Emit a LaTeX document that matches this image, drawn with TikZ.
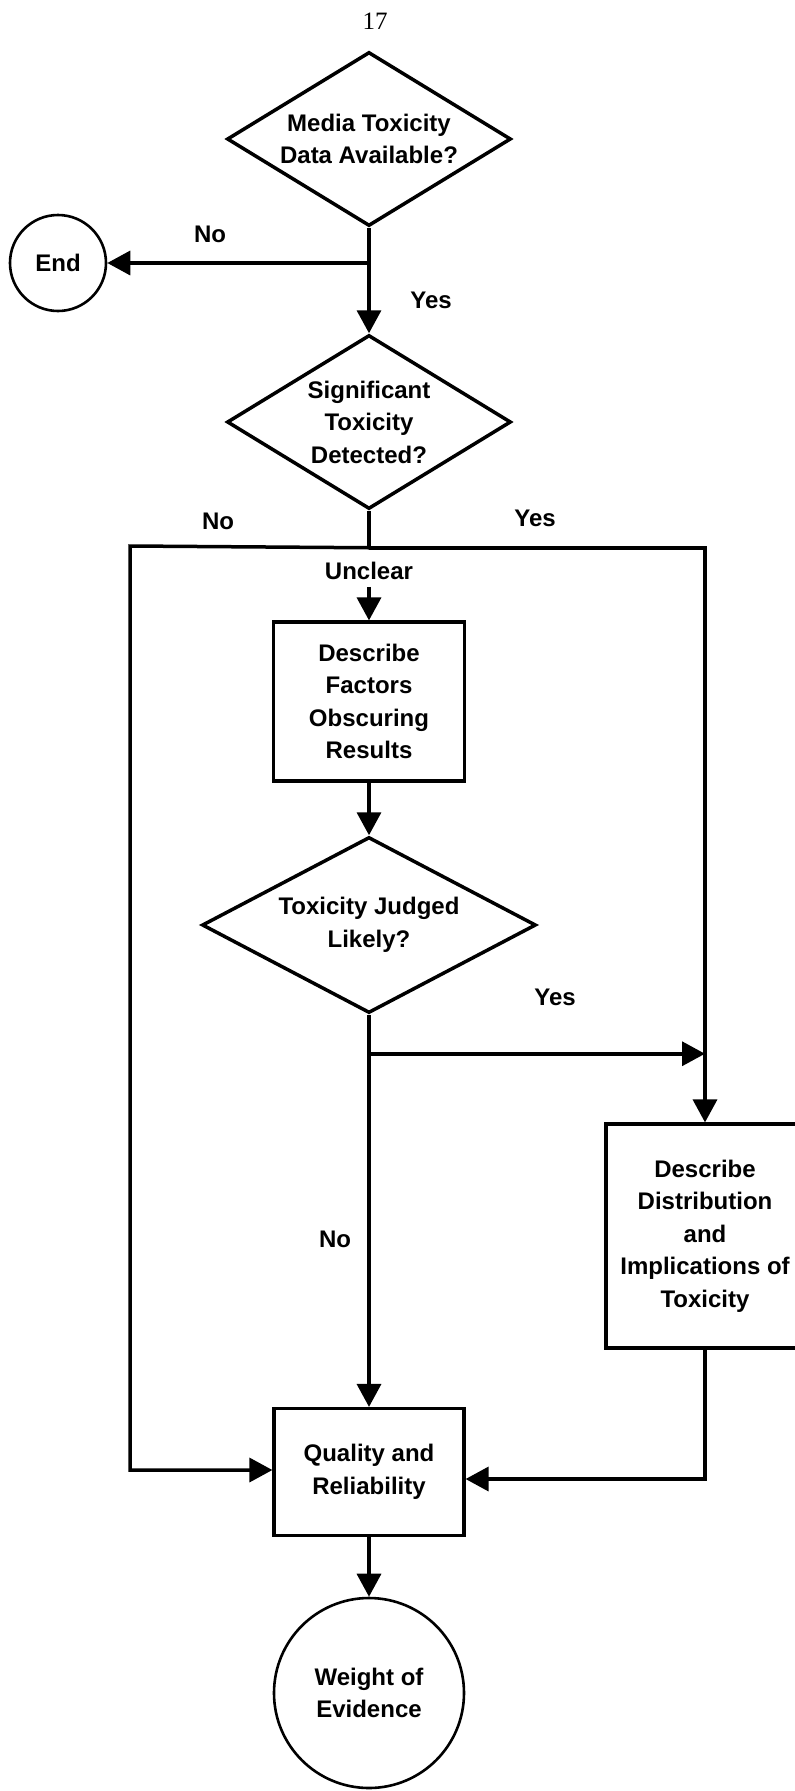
\documentclass[tikz,border=0pt]{standalone}
\usepackage{fontspec}
\setmainfont{Liberation Sans}
\newfontfamily\pagenumfont{Liberation Serif}
\usetikzlibrary{shapes.geometric,arrows.meta}
\begin{document}
\begin{tikzpicture}[x=1pt,y=-1pt,
  every node/.style={font=\bfseries\fontsize{24}{32.5}\selectfont},
  decision/.style={draw,line width=3.5pt,diamond,inner sep=0pt,align=center,line join=miter},
  procbox/.style={draw,line width=3.2pt,rectangle,inner sep=0pt,align=center},
  terminal/.style={draw,line width=2.6pt,circle,inner sep=0pt,align=center},
  flow/.style={line width=3.5pt},
  arr/.style={flow,-{Triangle[length=23pt,width=24pt]}},
  lbl/.style={inner sep=1pt}
]
\useasboundingbox (0,0) rectangle (795,1791);

% page number
\node[font=\pagenumfont\fontsize{25}{30}\selectfont] (pg) at (375,21) {17};

% shapes
\node[decision,minimum width=284pt,minimum height=174pt,aspect=1.63] (d1) at (369,139) {Media Toxicity\\Data Available?};
\node[terminal,minimum size=96pt] (end) at (58,263) {End};
\node[decision,minimum width=284pt,minimum height=174pt,aspect=1.63] (d2) at (369,422) {Significant\\Toxicity\\Detected?};
\node[procbox,minimum width=191pt,minimum height=159pt] (b1) at (369,701.5) {Describe\\Factors\\Obscuring\\Results};
\node[decision,minimum width=334pt,minimum height=176pt,aspect=1.9] (d3) at (369,925) {Toxicity Judged\\Likely?};
\node[procbox,minimum width=198pt,minimum height=224pt] (b2) at (705,1236) {Describe\\Distribution\\and\\Implications of\\Toxicity};
\node[procbox,minimum width=190pt,minimum height=127pt] (q) at (369,1472) {Quality and\\Reliability};
\node[terminal,minimum size=190pt] (w) at (369,1693) {Weight of\\Evidence};

% first decision
\coordinate (j1) at (d1.south |- end.east);
\draw[arr] (d1.south) -- (d2.north);
\draw[arr] (j1) -- (end.east);
\node[lbl] (no1) at (210,234) {No};
\node[lbl] (yes1) at (431,300) {Yes};

% second decision: three branches
\path (d2.south) ++(0,37) coordinate (j2);
\coordinate (lt) at (130,546);
\draw[flow] (d2.south) -- (j2);
\draw[arr] (j2) -- (lt) |- ([yshift=2pt]q.west);
\draw[arr] (j2) -| (b2.north);
\node[lbl] (no2) at (218,521) {No};
\node[lbl] (yes2) at (535,518) {Yes};
\node[inner sep=7pt] (unc) at ([yshift=-23pt]j2) {Unclear};
\draw[arr] (unc.south) -- (b1.north);

% third decision
\draw[arr] (b1.south) -- (d3.north);
\draw[arr] (d3.south) -- (q.north);
\path (d3.south) ++(0,39) coordinate (j3);
\draw[arr] (j3) -- (j3 -| b2.north);
\node[lbl] (yes3) at (555,997) {Yes};
\node[lbl] (no3) at (335,1239) {No};

% towards the end
\draw[arr] (b2.south) |- ([yshift=-7pt]q.east);
\draw[arr] (q.south) -- (w.north);
\end{tikzpicture}
\end{document}
